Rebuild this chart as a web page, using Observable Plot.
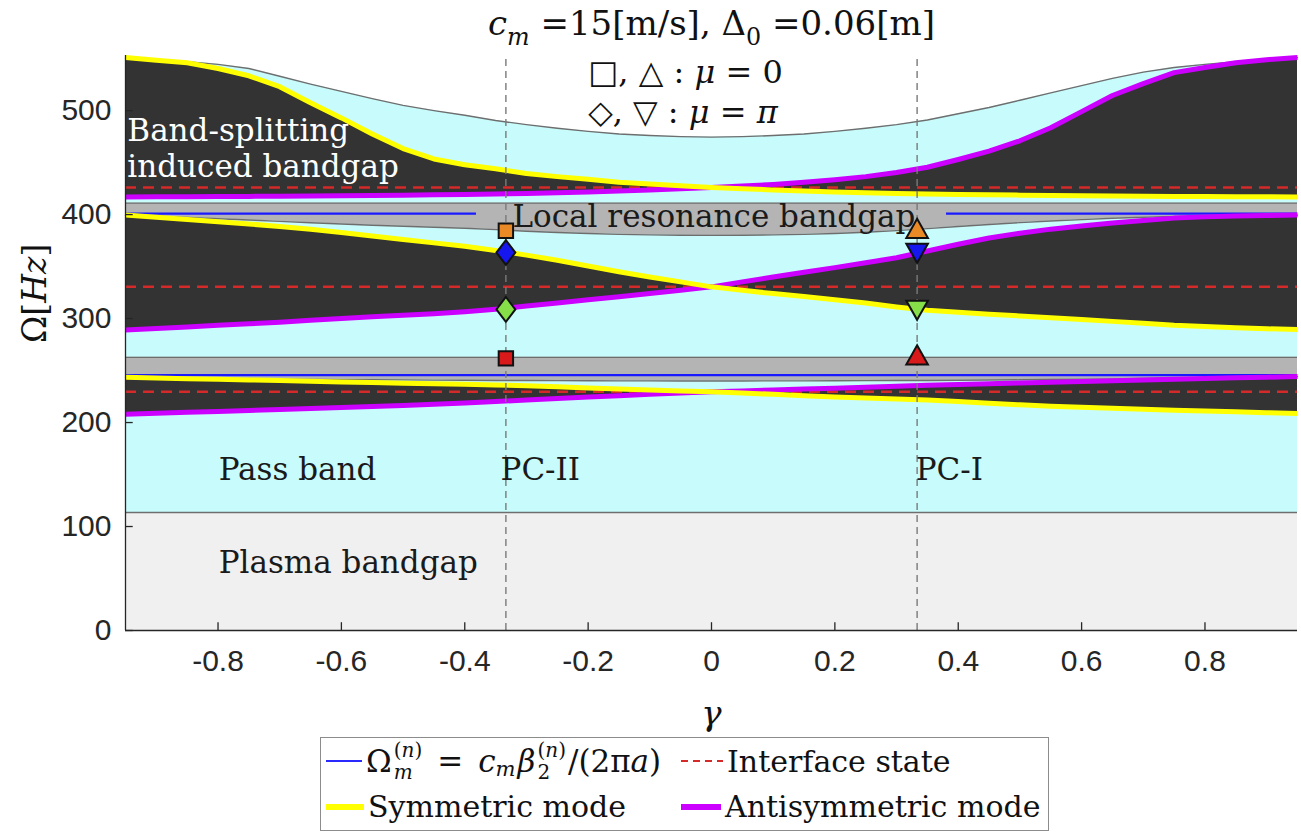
<!DOCTYPE html>
<html>
<head>
<meta charset="utf-8">
<script src="https://cdn.jsdelivr.net/npm/d3@7"></script>
<script src="https://cdn.jsdelivr.net/npm/@observablehq/plot@0.6"></script>
<style>
  body { margin: 0; background: #fff; }
  #wrap { position: relative; width: 1301px; height: 836px; overflow: hidden; }
  #legend {
    position: absolute; left: 320px; top: 737px; width: 729px; height: 94px;
    box-sizing: border-box; border: 1.5px solid #8c8c8c; background: #fff;
    display: grid; grid-template-columns: 355px auto; grid-template-rows: 46px 45px;
    padding-left: 5px; padding-top: 0px;
    font-family: "DejaVu Serif", serif; font-size: 30px; color: #111;
  }
  .item { display: flex; align-items: center; white-space: nowrap; }
  .item svg { flex: none; margin-right: 4px; }
  .fm { display: inline-flex; align-items: center; font-size: 31px; }
  .ss { display: inline-flex; flex-direction: column; font-size: 20px; line-height: 1.12; margin: 0 2px; }
  .sb { font-size: 21px; position: relative; top: 8px; margin-right: 2px; }
  .eq { margin: 0 15px 0 13px; }
</style>
</head>
<body>
<div id="wrap">
  <div id="chart"></div>
  <div id="legend">
    <div class="item"><svg width="36" height="10"><line x1="0" x2="36" y1="5" y2="5" stroke="#2a2aff" stroke-width="2"/></svg><span class="fm"><span>Ω</span><span class="ss"><span>(<i>n</i>)</span><span><i>m</i></span></span><span class="eq">=</span><i>c</i><span class="sb"><i>m</i></span><i>β</i><span class="ss"><span>(<i>n</i>)</span><span>2</span></span><span>/(2π<i>a</i>)</span></span></div>
    <div class="item"><svg width="42" height="10"><line x1="0" x2="42" y1="5" y2="5" stroke="#d42a2a" stroke-width="2.2" stroke-dasharray="7,5"/></svg><span>Interface state</span></div>
    <div class="item"><svg width="38" height="10"><line x1="0" x2="38" y1="5" y2="5" stroke="#ffff00" stroke-width="6"/></svg><span>Symmetric mode</span></div>
    <div class="item"><svg width="40" height="10"><line x1="0" x2="40" y1="5" y2="5" stroke="#cc00ff" stroke-width="6"/></svg><span>Antisymmetric mode</span></div>
  </div>
</div>
<script>
// ---------------- data ----------------
const gamma = [-0.95,-0.9,-0.85,-0.8,-0.75,-0.7,-0.65,-0.6,-0.55,-0.5,-0.45,-0.4,-0.35,-0.3,-0.25,-0.2,-0.15,-0.1,-0.05,0,
               0.05,0.1,0.15,0.2,0.25,0.3,0.35,0.4,0.45,0.5,0.55,0.6,0.65,0.7,0.75,0.8,0.85,0.9,0.95];

// upper edge of the pass band (grey curve)
const passTop = [550.5,549,547,544.5,540.5,533,525.5,518.5,511.5,505,500,495.5,490.5,486.5,483,480,477.5,476,475,474.5,
                 475,476,477.5,480,483,486.5,491,497,503,510,517,524,531,537,541.5,544.5,547,549,551];

// upper group (band-splitting induced bandgap)
const symUpper = [551,548.5,546,540.5,533.5,523,507.5,493,477.5,463.5,453.5,448,444,439.5,436.5,434,431.2,429.5,427.7,426,
                  424.8,423.7,422.7,421.8,421,420.3,419.7,419.3,419,418.7,418.4,418.1,417.9,417.7,417.5,417.3,417.2,417.1,417];
const antiUpper = [417,417.1,417.2,417.3,417.5,417.7,417.9,418.1,418.4,418.7,419,419.3,419.7,420.3,421,421.8,422.7,423.7,424.8,426,
                   427.5,429,431,433.5,436.5,440.5,445.5,453,461,471,483.5,499,514.5,526,536.5,541.5,546,549,551];

// middle group
const symMid = [399.5,397.5,395.3,393.2,391,388.5,385.8,382.8,379.5,376,372.8,369.5,365.5,361,356,350.5,345,340,335.3,330.5,
                327.2,324,321.2,318.2,315,311.2,308,306,304.2,302.5,300.8,299,297.3,295.5,293.5,292.3,291.2,290.2,289.5];
const antiMid = [289,290.5,292,293.5,295,296.5,298.3,300,301.7,303.2,304.6,306.5,309,312,315,318,321,324,327.3,330.5,
                 335.3,340,344.5,349,353.7,358.5,365,371.5,377.5,382,386,389,391.8,394.3,396.6,397.8,398.6,399.1,399.5];

// lower group
const symLow = [243.5,242.8,242.2,241.6,241,240.4,239.7,239,238.4,237.8,237.3,236.8,236.2,235.4,234.4,233.3,232.3,231.3,230.4,229.6,
                228.4,227.1,225.8,224.6,223.6,222.6,221.6,220.2,218.6,217,215.6,214.6,213.7,212.8,211.9,211.1,210.3,209.5,208.7];
const antiLow = [208,208.9,209.8,210.7,211.6,212.5,213.4,214.4,215.4,216.4,217.5,218.7,220.2,221.7,223.1,224.5,225.8,227.1,228.4,229.6,
                 230.4,231.3,232.2,233.1,234,234.9,235.8,236.6,237.4,238.1,238.8,239.5,240.2,240.9,241.6,242.3,243,243.6,244.2];

// local-resonance bandgaps: lower edges (curves) and upper edges (constants)
const upperGapBottom = [399.5,398.5,397.3,396,394.8,393.5,392.2,391,389.8,388.8,387.8,386.8,385.5,384,382.8,381.8,381,380.5,380.1,380,
                        380.1,380.5,381,381.8,383,384.6,386.5,388.5,390.5,392.3,393.8,395.2,396.5,397.5,398.3,398.8,399.1,399.3,399.5];
const lowerGapBottom = [243.5,243,242.6,242.3,242,241.7,241.5,241.3,241.1,241,240.8,240.7,240.5,240.4,240.3,240.2,240.1,240.05,240,240,
                        240,240.05,240.1,240.2,240.3,240.4,240.5,240.7,240.9,241.1,241.4,241.7,242,242.4,242.8,243.2,243.6,243.9,244.2];
const upperGapTop = 411;
const lowerGapTop = 262.7;
const plasmaTop = 113.5;

const interfaceStates = [426, 330.5, 229.6];

// Omega_m^(n) lines
const blueOmega = [401, 401, 245.7];
const blueFrom  = [-0.95, 0.381, -0.95];
const blueTo    = [-0.381, 0.95, 0.95];

// phononic crystals PC-II / PC-I
const pcGamma = [-1/3, 1/3];

// markers
const markerGamma = [-1/3, -1/3, -1/3, -1/3, 1/3, 1/3, 1/3, 1/3];
const markerOmega = [384.5, 363.5, 308.8, 261.7, 386.8, 362.7, 308, 265];
const markerShape = ["square", "diamond", "diamond", "square", "up", "down", "down", "up"];
const markerColor = ["#ea8a26", "#1616ee", "#86de48", "#d81a1a", "#ea8a26", "#1616ee", "#86de48", "#d81a1a"];

// text annotations
const labelText  = ["Band-splitting", "induced bandgap", "Local resonance bandgap", "Pass band", "PC-II", "PC-I", "Plasma bandgap"];
const labelGamma = [-0.947, -0.947, -0.3226, -0.799, -0.342, 0.331, -0.799];
const labelOmega = [480, 446, 398, 154, 154, 154, 64.5];
const labelColor = ["#ffffff", "#ffffff", "#1a1a1a", "#1a1a1a", "#1a1a1a", "#1a1a1a", "#1a1a1a"];

const muText  = ["□, △ : μ = 0", "◇, ▽ : μ = π"];
const muGamma = [-0.2, -0.2];
const muOmega = [536.7, 498.2];

const titleText = "c_m =15[m/s], Δ0 =0.06[m]";
const yLabelText = "Ω[Hz]";
const xLabelText = "γ";

const xTicks = [-0.8, -0.6, -0.4, -0.2, 0, 0.2, 0.4, 0.6, 0.8];
const yTicks = [0, 100, 200, 300, 400, 500];
const xDomain = [-0.95, 0.95];
const yDomain = [0, 553];

// ---------------- build ----------------
const rows = gamma.map((g, i) => ({
  g, top: passTop[i], sU: symUpper[i], aU: antiUpper[i], sM: symMid[i], aM: antiMid[i],
  sL: symLow[i], aL: antiLow[i], gu: upperGapBottom[i], gl: lowerGapBottom[i]
}));
const blueRows = blueOmega.map((y, i) => ({y, x1: blueFrom[i], x2: blueTo[i]}));
const markers = markerGamma.map((x, i) => ({x, y: markerOmega[i], shape: markerShape[i], color: markerColor[i]}));
const labels = labelText.map((t, i) => ({t, x: labelGamma[i], y: labelOmega[i], c: labelColor[i]}));
const muRows = muText.map((t, i) => ({t, x: muGamma[i], y: muOmega[i]}));

const symSquare = {draw(ctx, size) { const r = Math.sqrt(size / Math.PI), h = 0.9 * r; ctx.rect(-h, -h, 2 * h, 2 * h); }};
const symDiamond = {draw(ctx, size) { const r = Math.sqrt(size / Math.PI); ctx.moveTo(0, -1.55 * r); ctx.lineTo(1.18 * r, 0); ctx.lineTo(0, 1.55 * r); ctx.lineTo(-1.18 * r, 0); ctx.closePath(); }};
const symUp = {draw(ctx, size) { const r = Math.sqrt(size / Math.PI); ctx.moveTo(0, -1.2 * r); ctx.lineTo(1.35 * r, 1.2 * r); ctx.lineTo(-1.35 * r, 1.2 * r); ctx.closePath(); }};
const symDown = {draw(ctx, size) { const r = Math.sqrt(size / Math.PI); ctx.moveTo(0, 1.2 * r); ctx.lineTo(1.35 * r, -1.2 * r); ctx.lineTo(-1.35 * r, -1.2 * r); ctx.closePath(); }};
const shapeSymbols = {square: symSquare, diamond: symDiamond, up: symUp, down: symDown};

const cyan = "#c8fcfc", dark = "#333333", gapGray = "#b4b4b4", plasmaFill = "#f0f0f0", edge = "#6e6e6e";
const yellow = "#ffff00", magenta = "#cc00ff";
const ink = "#262626";

const dotMarks = Object.keys(shapeSymbols).map(k =>
  Plot.dot(markers.filter(d => d.shape === k), {
    x: "x", y: "y", r: 8, symbol: shapeSymbols[k], fill: "color", stroke: "#111", strokeWidth: 2
  })
);

const chart = Plot.plot({
  width: 1301,
  height: 736,
  marginLeft: 125,
  marginRight: 4,
  marginTop: 55,
  marginBottom: 106,
  style: {fontFamily: "Liberation Sans, Arial, sans-serif", fontSize: "30px", color: ink, background: "#fff"},
  x: {domain: xDomain},
  y: {domain: yDomain},
  marks: [
    // regions
    Plot.areaY(rows, {x: "g", y1: 0, y2: plasmaTop, fill: plasmaFill}),
    Plot.areaY(rows, {x: "g", y1: plasmaTop, y2: "top", fill: cyan}),
    Plot.areaY(rows, {x: "g", y1: "sU", y2: "aU", fill: dark}),
    Plot.areaY(rows, {x: "g", y1: "sM", y2: "aM", fill: dark}),
    Plot.areaY(rows, {x: "g", y1: "sL", y2: "aL", fill: dark}),
    Plot.areaY(rows, {x: "g", y1: "gu", y2: upperGapTop, fill: gapGray}),
    Plot.areaY(rows, {x: "g", y1: "gl", y2: lowerGapTop, fill: gapGray}),
    // region borders
    Plot.line(rows, {x: "g", y: "top", stroke: edge, strokeWidth: 1.4}),
    Plot.ruleY([plasmaTop], {stroke: edge, strokeWidth: 1.4}),
    Plot.line(rows, {x: "g", y: "gu", stroke: edge, strokeWidth: 1.4}),
    Plot.line(rows, {x: "g", y: "gl", stroke: edge, strokeWidth: 1.4}),
    Plot.ruleY([upperGapTop, lowerGapTop], {stroke: edge, strokeWidth: 1.4}),
    // interface states
    Plot.ruleY(interfaceStates, {stroke: "#d42a2a", strokeWidth: 2.5, strokeDasharray: "11,7"}),
    // Omega_m^(n)
    Plot.ruleY(blueRows, {y: "y", x1: "x1", x2: "x2", stroke: "#1a1aff", strokeWidth: 2.2}),
    // modes
    Plot.line(rows, {x: "g", y: "aL", stroke: magenta, strokeWidth: 5, strokeLinecap: "butt"}),
    Plot.line(rows, {x: "g", y: "sL", stroke: yellow, strokeWidth: 5, strokeLinecap: "butt"}),
    Plot.line(rows, {x: "g", y: "aM", stroke: magenta, strokeWidth: 5, strokeLinecap: "butt"}),
    Plot.line(rows, {x: "g", y: "sM", stroke: yellow, strokeWidth: 5, strokeLinecap: "butt"}),
    Plot.line(rows, {x: "g", y: "aU", stroke: magenta, strokeWidth: 5, strokeLinecap: "butt"}),
    Plot.line(rows, {x: "g", y: "sU", stroke: yellow, strokeWidth: 5, strokeLinecap: "butt"}),
    // PC-II / PC-I dashed lines
    Plot.ruleX(pcGamma, {y1: yDomain[0], y2: yDomain[1], stroke: "#7a7a7a", strokeWidth: 1.4, strokeDasharray: "7,5"}),
    // markers
    ...dotMarks,
    // axes
    Plot.ruleX([xDomain[0]], {y1: yDomain[0], y2: yDomain[1], stroke: ink, strokeWidth: 1.3}),
    Plot.ruleY([yDomain[0]], {stroke: ink, strokeWidth: 1.3}),
    Plot.ruleX(xTicks, {y1: 0, y2: 7.5, stroke: ink, strokeWidth: 1.3}),
    Plot.ruleY(yTicks, {x1: xDomain[0], x2: xDomain[0] + 0.0125, stroke: ink, strokeWidth: 1.3}),
    Plot.axisX({ticks: xTicks, tickSize: 0, tickPadding: 19, label: null, tickFormat: d => d === 0 ? "0" : d.toFixed(1)}),
    Plot.axisY({ticks: yTicks, tickSize: 0, tickPadding: 14, label: null, tickFormat: d => String(d)}),
    // annotations
    Plot.text(labels, {x: "x", y: "y", text: "t", fill: "c", textAnchor: "start", fontFamily: "DejaVu Serif", fontSize: 31}),
    Plot.text(muRows, {x: "x", y: "y", text: "t", textAnchor: "start", fontFamily: "DejaVu Serif", fontSize: 32, fill: "#111"}),
    Plot.text([titleText], {frameAnchor: "top", lineAnchor: "middle", dy: -31, fontFamily: "DejaVu Serif", fontSize: 34, fill: "#111"}),
    Plot.text([yLabelText], {frameAnchor: "left", dx: -90, rotate: -90, fontFamily: "DejaVu Serif", fontSize: 33, fill: "#111"}),
    Plot.text([xLabelText], {frameAnchor: "bottom", lineAnchor: "middle", dy: 84, fontFamily: "DejaVu Serif", fontStyle: "italic", fontSize: 34, fill: "#111"})
  ]
});
document.getElementById("chart").appendChild(chart);

// ---------- rich text (sub/superscripts, math italics) ----------
const NS = "http://www.w3.org/2000/svg";
const richParts = new Map([
  [titleText, {size: 34, parts: [{t: "c", it: true}, {t: "m", it: true, sub: true}, {t: " =15[m/s], Δ"}, {t: "0", sub: true}, {t: " =0.06[m]"}]}],
  [muText[0], {size: 32, parts: [{t: "□, △ : "}, {t: "μ", it: true}, {t: " = 0"}]}],
  [muText[1], {size: 32, parts: [{t: "◇, ▽ : "}, {t: "μ", it: true}, {t: " = "}, {t: "π", it: true}]}],
  [yLabelText, {size: 33, parts: [{t: "Ω["}, {t: "Hz", it: true}, {t: "]"}]}]
]);
chart.querySelectorAll("text").forEach(t => {
  const spec = richParts.get(t.textContent);
  if (!spec) return;
  while (t.firstChild) t.removeChild(t.firstChild);
  let shift = 0;
  spec.parts.forEach(p => {
    const s = document.createElementNS(NS, "tspan");
    s.textContent = p.t;
    if (p.it) s.setAttribute("font-style", "italic");
    const target = p.sub ? 0.28 * spec.size : 0;
    if (p.sub) s.setAttribute("font-size", 0.7 * spec.size);
    if (target !== shift) { s.setAttribute("dy", target - shift); shift = target; }
    t.appendChild(s);
  });
});
</script>
</body>
</html>
